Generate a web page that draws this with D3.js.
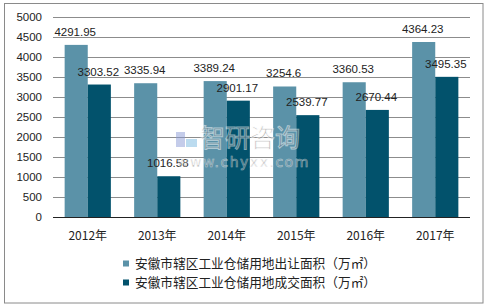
<!DOCTYPE html>
<html><head><meta charset="utf-8">
<script src="https://cdn.jsdelivr.net/npm/d3@7/dist/d3.min.js"></script>
<style>body{margin:0;background:#fff}svg{display:block}</style>
</head><body><svg id="c" width="486" height="307"></svg>
<script>
const categories = ["2012年","2013年","2014年","2015年","2016年","2017年"];
const sold = [4291.95,3335.94,3389.24,3254.6,3360.53,4364.23];
const traded = [3303.52,1016.58,2901.17,2539.77,2670.44,3495.35];
const yTicks = [0,500,1000,1500,2000,2500,3000,3500,4000,4500,5000];
const seriesNames = ["安徽市辖区工业仓储用地出让面积（万㎡）","安徽市辖区工业仓储用地成交面积（万㎡）"];
const colors = ["#5b92a8","#02526c"];

const svg = d3.select("#c");
const font = "'Liberation Sans', Arial, sans-serif";
svg.append("rect").attr("x",4.5).attr("y",3.5).attr("width",478.5).attr("height",299.5)
  .attr("fill","#fff").attr("stroke","#8a8a8a").attr("stroke-width",1);

const L=53, R=470, T=16.5, B=217;
const x = d3.scaleBand().domain(categories).range([L,R]).paddingInner(0.335).paddingOuter(0.1675);
const xs = d3.scaleBand().domain([0,1]).range([0,x.bandwidth()]);
const y = d3.scaleLinear().domain([0,5000]).range([B,T]);

const g = svg.append("g");
g.selectAll("line.grid").data(yTicks.filter(d=>d>0)).join("line")
  .attr("x1",L).attr("x2",R).attr("y1",d=>Math.round(y(d))+0.5).attr("y2",d=>Math.round(y(d))+0.5)
  .attr("stroke","#8c8c8c").attr("stroke-width",1);

const yAxis = d3.axisLeft(y).tickValues(yTicks).tickFormat(d3.format("d")).tickSize(0).tickPadding(11);
const ya = g.append("g").attr("transform",`translate(${L},0)`).call(yAxis);
ya.select(".domain").remove();
ya.selectAll("text").attr("font-family",font).attr("font-size",11.5).attr("fill","#222");

const data = [sold, traded];
data.forEach((arr,si)=>{
  g.selectAll(null).data(arr).join("rect")
    .attr("x",(d,i)=>x(categories[i])+xs(si)).attr("y",d=>y(d))
    .attr("width",xs.bandwidth()).attr("height",d=>B-y(d)).attr("fill",colors[si]);
});

// watermark
const wm = svg.append("g").attr("opacity",0.5);
wm.append("rect").attr("x",176).attr("y",132).attr("width",9).attr("height",15).attr("fill","#8a9ad6");
wm.append("rect").attr("x",186).attr("y",139).attr("width",11).attr("height",8).attr("fill","#7ab8e0");
wm.append("text").attr("x",200).attr("y",147).text("智研咨询").attr("font-family","'Noto Sans CJK SC'")
  .attr("font-size",25).attr("fill","#777").attr("stroke","#fff").attr("stroke-width",1);
wm.append("text").attr("x",177).attr("y",167).text("www.chyxx.com").attr("font-family","'DejaVu Sans', sans-serif")
  .attr("font-size",14).attr("letter-spacing",1.5).attr("fill","#666").attr("stroke","#fff").attr("stroke-width",0.6);

data.forEach((arr,si)=>{
  g.selectAll(null).data(arr).join("text")
    .attr("x",(d,i)=>x(categories[i])+xs(si)+xs.bandwidth()/2-1).attr("y",d=>y(d)-9)
    .attr("text-anchor","middle").attr("font-family",font).attr("font-size",11.5).attr("fill","#222")
    .text(d=>d);
});

g.append("line").attr("x1",L).attr("x2",R).attr("y1",B+0.5).attr("y2",B+0.5).attr("stroke","#222").attr("stroke-width",1);

const xAxis = d3.axisBottom(x).tickSize(0).tickPadding(14);
const xa = g.append("g").attr("transform",`translate(0,${B})`).call(xAxis);
xa.select(".domain").remove();
xa.selectAll("text").attr("font-family","'Noto Sans CJK SC', sans-serif").attr("font-size",12).attr("fill","#222");

const lg = svg.append("g");
seriesNames.forEach((n,i)=>{
  const cy = 263.5 + i*19;
  lg.append("rect").attr("x",123).attr("y",cy-3).attr("width",6).attr("height",6).attr("fill",colors[i]);
  lg.append("text").attr("x",135).attr("y",cy).attr("dy","0.36em").text(n)
    .attr("font-family","'Noto Sans CJK SC', sans-serif").attr("font-size",12.7).attr("fill","#222");
});
</script></body></html>
